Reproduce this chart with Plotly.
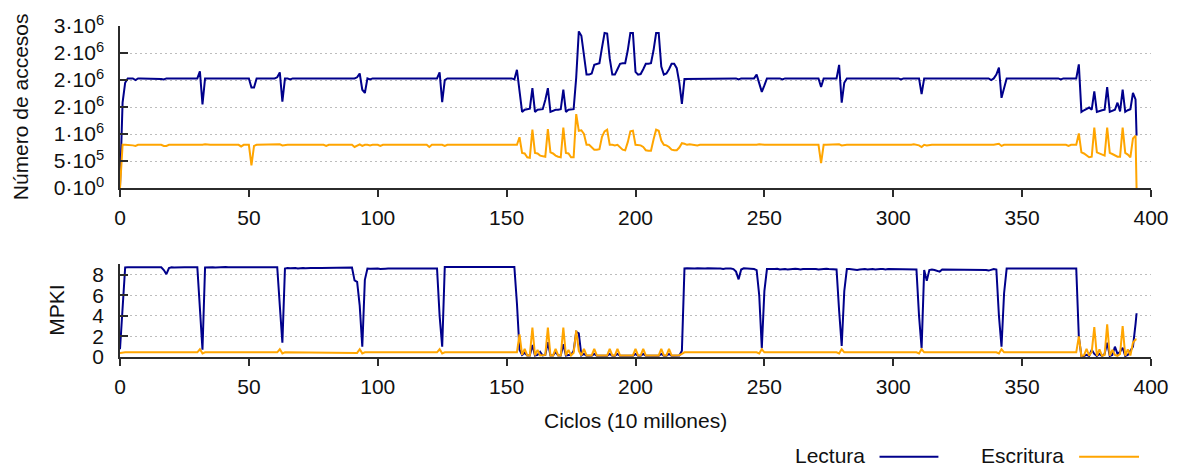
import plotly.graph_objects as go

# ---------------- DATA ----------------
# Ciclos (en unidades de 10 millones); el último intervalo es parcial
ciclos = list(range(395)) + [394.4]

# Número de accesos (en millones)
lectura_accesos = [
    0.02, 1.58, 1.95, 2.03, 2.03, 2.03, 2.00, 2.03, 2.03, 2.03,
    2.03, 2.03, 2.03, 2.03, 2.03, 2.03, 2.02, 2.01, 2.03, 2.03,
    2.03, 2.03, 2.03, 2.03, 2.03, 2.02, 2.03, 2.03, 2.03, 2.03,
    2.03, 2.16, 1.55, 2.03, 2.03, 2.03, 2.03, 2.03, 2.03, 2.03,
    2.03, 2.03, 2.03, 2.03, 2.03, 2.03, 2.03, 2.02, 2.03, 2.03,
    2.03, 1.86, 1.86, 2.03, 2.03, 2.03, 2.03, 2.03, 2.03, 2.03,
    2.03, 2.05, 2.14, 1.60, 2.03, 2.03, 2.01, 2.03, 2.03, 2.03,
    2.03, 2.03, 2.03, 2.03, 2.03, 2.02, 2.03, 2.03, 2.03, 2.03,
    2.03, 2.03, 2.03, 2.03, 2.03, 2.03, 2.03, 2.03, 2.02, 2.03,
    2.03, 2.03, 2.05, 2.12, 1.82, 1.76, 2.03, 2.01, 2.03, 2.03,
    2.03, 2.03, 2.03, 2.02, 2.03, 2.03, 2.03, 2.03, 2.03, 2.03,
    2.03, 2.03, 2.03, 2.03, 2.03, 2.03, 2.02, 2.03, 2.03, 2.03,
    2.03, 2.03, 2.03, 2.03, 2.14, 1.59, 2.00, 2.03, 2.03, 2.03,
    2.03, 2.03, 2.03, 2.03, 2.03, 2.03, 2.03, 2.03, 2.03, 2.03,
    2.03, 2.03, 2.03, 2.03, 2.02, 2.03, 2.03, 2.03, 2.03, 2.03,
    2.03, 2.03, 2.03, 2.01, 2.19, 1.80, 1.41, 1.45, 1.46, 1.47,
    1.85, 1.41, 1.45, 1.45, 1.46, 1.63, 1.85, 1.41, 1.43, 1.45,
    1.45, 1.46, 1.82, 1.41, 1.45, 1.45, 1.46, 2.05, 2.90, 2.82,
    2.45, 2.10, 2.10, 2.12, 2.28, 2.30, 2.31, 2.60, 2.87, 2.86,
    2.40, 2.10, 2.10, 2.20, 2.30, 2.31, 2.31, 2.55, 2.87, 2.87,
    2.15, 2.10, 2.11, 2.20, 2.30, 2.30, 2.31, 2.55, 2.87, 2.87,
    2.25, 2.10, 2.12, 2.20, 2.30, 2.30, 2.22, 1.95, 1.56, 2.02,
    2.02, 2.03, 2.03, 2.03, 2.03, 2.03, 2.03, 2.03, 2.02, 2.03,
    2.03, 2.03, 2.03, 2.03, 2.03, 2.03, 2.02, 2.03, 2.03, 2.03,
    2.01, 2.03, 2.03, 2.03, 2.03, 2.03, 2.03, 2.10, 1.95, 1.78,
    1.90, 2.03, 2.03, 2.03, 2.03, 2.03, 2.03, 2.01, 2.03, 2.03,
    2.03, 2.03, 2.03, 2.03, 2.03, 2.03, 2.03, 2.03, 2.03, 2.03,
    2.03, 2.03, 1.87, 2.03, 2.03, 2.03, 2.03, 2.03, 2.03, 2.28,
    1.58, 1.95, 2.03, 2.03, 2.03, 2.03, 2.03, 2.03, 2.03, 2.03,
    2.03, 2.03, 2.03, 2.03, 2.03, 2.02, 2.03, 2.03, 2.03, 2.03,
    2.03, 2.03, 2.03, 2.01, 2.03, 2.03, 2.03, 2.03, 2.03, 2.03,
    2.03, 1.74, 2.03, 2.03, 2.03, 2.03, 2.03, 2.03, 2.03, 2.03,
    2.03, 2.03, 2.03, 2.03, 2.03, 2.03, 2.03, 2.03, 2.03, 2.03,
    2.03, 2.03, 2.03, 2.03, 2.03, 2.03, 2.03, 2.03, 2.00, 2.03,
    2.10, 2.23, 1.67, 1.85, 2.03, 2.03, 2.03, 2.03, 2.03, 2.03,
    2.03, 2.03, 2.03, 2.03, 2.03, 2.03, 2.03, 2.03, 2.03, 2.03,
    2.03, 2.03, 2.03, 2.03, 2.03, 2.01, 2.03, 2.03, 2.03, 2.03,
    2.03, 2.03, 2.29, 1.41, 1.44, 1.46, 1.49, 1.45, 1.79, 1.41,
    1.43, 1.44, 1.45, 1.87, 1.41, 1.43, 1.45, 1.58, 1.42, 1.82,
    1.41, 1.44, 1.46, 1.76, 1.64, 0.97,
]

escritura_accesos = [
    0.00, 0.80, 0.80, 0.80, 0.80, 0.79, 0.78, 0.80, 0.80, 0.80,
    0.80, 0.80, 0.80, 0.80, 0.80, 0.80, 0.80, 0.78, 0.78, 0.80,
    0.80, 0.80, 0.80, 0.79, 0.80, 0.80, 0.80, 0.80, 0.80, 0.80,
    0.80, 0.80, 0.80, 0.81, 0.80, 0.80, 0.80, 0.80, 0.79, 0.80,
    0.80, 0.80, 0.80, 0.80, 0.80, 0.80, 0.80, 0.77, 0.80, 0.80,
    0.80, 0.42, 0.78, 0.80, 0.80, 0.80, 0.80, 0.80, 0.80, 0.80,
    0.80, 0.80, 0.81, 0.79, 0.80, 0.80, 0.80, 0.80, 0.80, 0.80,
    0.80, 0.80, 0.80, 0.80, 0.79, 0.80, 0.80, 0.80, 0.80, 0.80,
    0.78, 0.80, 0.80, 0.80, 0.80, 0.80, 0.80, 0.80, 0.80, 0.80,
    0.80, 0.76, 0.79, 0.81, 0.78, 0.80, 0.80, 0.79, 0.80, 0.80,
    0.80, 0.78, 0.80, 0.80, 0.80, 0.80, 0.80, 0.80, 0.80, 0.80,
    0.80, 0.80, 0.80, 0.79, 0.80, 0.80, 0.80, 0.80, 0.80, 0.80,
    0.76, 0.80, 0.80, 0.80, 0.80, 0.80, 0.78, 0.80, 0.80, 0.80,
    0.80, 0.80, 0.80, 0.80, 0.80, 0.79, 0.80, 0.80, 0.80, 0.80,
    0.80, 0.80, 0.80, 0.80, 0.80, 0.80, 0.79, 0.80, 0.80, 0.80,
    0.80, 0.80, 0.80, 0.79, 0.80, 0.94, 0.65, 0.64, 0.57, 0.56,
    1.08, 0.65, 0.64, 0.60, 0.59, 0.58, 1.09, 0.66, 0.64, 0.60,
    0.58, 0.57, 1.12, 0.65, 0.64, 0.57, 0.57, 1.37, 1.06, 1.07,
    1.00, 0.80, 0.80, 0.76, 0.71, 0.71, 0.72, 0.95, 1.05, 1.08,
    0.80, 0.80, 0.79, 0.80, 0.76, 0.71, 0.70, 0.85, 1.05, 1.06,
    0.80, 0.80, 0.79, 0.76, 0.70, 0.69, 0.69, 0.90, 1.08, 1.06,
    0.88, 0.80, 0.79, 0.76, 0.71, 0.70, 0.70, 0.75, 0.83, 0.82,
    0.80, 0.81, 0.80, 0.80, 0.79, 0.80, 0.80, 0.80, 0.80, 0.79,
    0.80, 0.80, 0.80, 0.80, 0.80, 0.79, 0.80, 0.80, 0.80, 0.80,
    0.80, 0.80, 0.79, 0.80, 0.80, 0.80, 0.80, 0.80, 0.81, 0.80,
    0.80, 0.80, 0.80, 0.80, 0.79, 0.80, 0.80, 0.80, 0.80, 0.80,
    0.80, 0.80, 0.80, 0.80, 0.80, 0.80, 0.80, 0.80, 0.80, 0.80,
    0.80, 0.80, 0.46, 0.80, 0.80, 0.80, 0.80, 0.80, 0.80, 0.81,
    0.79, 0.80, 0.80, 0.80, 0.80, 0.80, 0.80, 0.80, 0.80, 0.80,
    0.80, 0.80, 0.79, 0.80, 0.80, 0.80, 0.80, 0.80, 0.80, 0.80,
    0.80, 0.80, 0.80, 0.79, 0.80, 0.79, 0.80, 0.80, 0.81, 0.80,
    0.79, 0.76, 0.80, 0.79, 0.80, 0.80, 0.80, 0.80, 0.80, 0.80,
    0.79, 0.80, 0.80, 0.80, 0.80, 0.80, 0.80, 0.79, 0.80, 0.80,
    0.80, 0.80, 0.80, 0.80, 0.80, 0.80, 0.80, 0.79, 0.80, 0.80,
    0.81, 0.82, 0.78, 0.80, 0.80, 0.80, 0.80, 0.80, 0.80, 0.80,
    0.80, 0.80, 0.79, 0.80, 0.80, 0.80, 0.80, 0.80, 0.80, 0.80,
    0.80, 0.80, 0.79, 0.80, 0.80, 0.80, 0.79, 0.80, 0.78, 0.80,
    0.80, 0.80, 1.01, 0.66, 0.64, 0.60, 0.57, 0.58, 1.12, 0.66,
    0.64, 0.61, 0.60, 1.12, 0.65, 0.63, 0.60, 0.58, 0.58, 1.12,
    0.65, 0.62, 0.57, 0.92, 0.97, 0.00,
]

# MPKI
lectura_mpki = [
    0.75, 4.80, 8.70, 8.72, 8.72, 8.70, 8.72, 8.72, 8.72, 8.75,
    8.72, 8.72, 8.70, 8.72, 8.72, 8.75, 8.72, 8.45, 8.05, 8.65,
    8.72, 8.70, 8.72, 8.72, 8.75, 8.72, 8.72, 8.70, 8.72, 8.72,
    8.72, 4.70, 0.70, 8.70, 8.72, 8.72, 8.72, 8.70, 8.72, 8.72,
    8.72, 8.75, 8.72, 8.72, 8.70, 8.72, 8.72, 8.75, 8.72, 8.72,
    8.72, 8.70, 8.72, 8.72, 8.72, 8.70, 8.72, 8.72, 8.72, 8.72,
    8.72, 8.72, 5.00, 1.40, 8.60, 8.65, 8.62, 8.65, 8.65, 8.60,
    8.65, 8.65, 8.62, 8.60, 8.65, 8.65, 8.68, 8.65, 8.65, 8.65,
    8.65, 8.68, 8.65, 8.65, 8.68, 8.65, 8.65, 8.65, 8.68, 8.65,
    8.70, 7.45, 7.30, 5.00, 1.00, 7.50, 8.60, 8.58, 8.60, 8.60,
    8.60, 8.55, 8.60, 8.58, 8.60, 8.60, 8.55, 8.60, 8.60, 8.58,
    8.60, 8.60, 8.58, 8.60, 8.62, 8.60, 8.60, 8.58, 8.60, 8.60,
    8.60, 8.58, 8.60, 8.60, 4.00, 1.00, 8.75, 8.75, 8.78, 8.75,
    8.78, 8.75, 8.75, 8.78, 8.75, 8.75, 8.75, 8.78, 8.75, 8.75,
    8.75, 8.78, 8.75, 8.75, 8.75, 8.78, 8.75, 8.75, 8.75, 8.78,
    8.75, 8.75, 8.78, 8.75, 5.20, 0.70, 0.20, 0.40, 0.15, 0.15,
    1.17, 0.15, 0.20, 0.50, 0.15, 0.20, 1.43, 0.15, 0.15, 0.50,
    0.15, 0.15, 1.24, 0.15, 0.20, 0.20, 0.60, 2.44, 2.30, 0.15,
    0.30, 0.12, 0.12, 0.12, 0.30, 0.12, 0.12, 0.12, 0.12, 0.12,
    0.30, 0.12, 0.12, 0.30, 0.12, 0.12, 0.12, 0.12, 0.12, 0.12,
    0.30, 0.12, 0.12, 0.30, 0.12, 0.12, 0.12, 0.12, 0.12, 0.12,
    0.30, 0.12, 0.12, 0.30, 0.12, 0.12, 0.12, 0.15, 0.60, 8.60,
    8.62, 8.60, 8.58, 8.60, 8.62, 8.60, 8.58, 8.60, 8.62, 8.60,
    8.60, 8.58, 8.60, 8.60, 8.55, 8.60, 8.62, 8.60, 8.55, 8.30,
    7.55, 8.50, 8.62, 8.60, 8.60, 8.58, 8.55, 8.45, 6.00, 0.86,
    6.40, 8.55, 8.58, 8.55, 8.55, 8.58, 8.50, 8.55, 8.55, 8.50,
    8.55, 8.55, 8.58, 8.55, 8.50, 8.55, 8.55, 8.58, 8.55, 8.55,
    8.55, 8.50, 8.55, 8.55, 8.58, 8.55, 8.55, 8.55, 8.50, 4.50,
    1.07, 6.40, 8.55, 8.55, 8.50, 8.50, 8.45, 8.50, 8.55, 8.55,
    8.50, 8.55, 8.55, 8.50, 8.55, 8.55, 8.55, 8.50, 8.55, 8.55,
    8.55, 8.50, 8.55, 8.55, 8.55, 8.50, 8.55, 8.55, 8.55, 8.50,
    4.00, 0.86, 8.45, 7.40, 8.45, 8.50, 8.45, 8.35, 8.30, 8.50,
    8.50, 8.45, 8.50, 8.50, 8.45, 8.50, 8.50, 8.45, 8.50, 8.50,
    8.45, 8.50, 8.50, 8.45, 8.50, 8.50, 8.45, 8.40, 8.50, 8.55,
    8.50, 4.00, 1.00, 6.20, 8.60, 8.60, 8.58, 8.60, 8.55, 8.60,
    8.60, 8.58, 8.60, 8.60, 8.58, 8.60, 8.60, 8.55, 8.60, 8.60,
    8.60, 8.58, 8.60, 8.60, 8.60, 8.58, 8.60, 8.60, 8.58, 8.60,
    8.60, 8.60, 1.95, 0.08, 0.10, 0.20, 0.10, 0.70, 0.30, 0.10,
    0.30, 0.10, 0.30, 1.40, 0.10, 0.20, 1.00, 0.30, 0.50, 0.90,
    0.10, 0.20, 0.60, 1.00, 3.20, 4.25,
]

escritura_mpki = [
    0.40, 0.45, 0.45, 0.45, 0.46, 0.45, 0.45, 0.45, 0.46, 0.45,
    0.45, 0.45, 0.46, 0.45, 0.45, 0.45, 0.47, 0.45, 0.45, 0.45,
    0.45, 0.45, 0.45, 0.45, 0.45, 0.46, 0.45, 0.45, 0.45, 0.45,
    0.45, 0.75, 0.35, 0.45, 0.45, 0.45, 0.46, 0.45, 0.45, 0.45,
    0.45, 0.45, 0.45, 0.46, 0.45, 0.45, 0.45, 0.45, 0.45, 0.46,
    0.45, 0.45, 0.45, 0.45, 0.46, 0.45, 0.45, 0.45, 0.45, 0.45,
    0.45, 0.45, 0.75, 0.35, 0.45, 0.45, 0.45, 0.46, 0.45, 0.45,
    0.45, 0.45, 0.46, 0.45, 0.45, 0.45, 0.45, 0.45, 0.46, 0.45,
    0.45, 0.45, 0.45, 0.45, 0.46, 0.45, 0.45, 0.45, 0.45, 0.45,
    0.45, 0.45, 0.40, 0.75, 0.35, 0.45, 0.45, 0.45, 0.46, 0.45,
    0.45, 0.45, 0.45, 0.46, 0.45, 0.45, 0.45, 0.45, 0.45, 0.46,
    0.45, 0.45, 0.45, 0.45, 0.46, 0.45, 0.45, 0.45, 0.45, 0.45,
    0.45, 0.45, 0.45, 0.45, 0.75, 0.35, 0.45, 0.45, 0.46, 0.45,
    0.45, 0.45, 0.45, 0.46, 0.45, 0.45, 0.45, 0.45, 0.45, 0.46,
    0.45, 0.45, 0.45, 0.45, 0.46, 0.45, 0.45, 0.45, 0.45, 0.45,
    0.45, 0.45, 0.45, 0.45, 0.45, 2.19, 0.20, 0.80, 0.15, 0.15,
    2.87, 0.15, 0.70, 0.15, 0.15, 0.20, 2.87, 0.15, 0.15, 0.80,
    0.15, 0.15, 2.87, 0.15, 0.70, 0.15, 0.40, 2.60, 0.60, 0.15,
    0.80, 0.15, 0.15, 0.15, 0.80, 0.15, 0.15, 0.15, 0.15, 0.15,
    0.80, 0.15, 0.15, 0.80, 0.15, 0.15, 0.15, 0.15, 0.15, 0.15,
    0.80, 0.15, 0.15, 0.80, 0.15, 0.15, 0.15, 0.15, 0.15, 0.15,
    0.80, 0.15, 0.15, 0.80, 0.15, 0.15, 0.15, 0.18, 0.30, 0.45,
    0.45, 0.45, 0.46, 0.45, 0.45, 0.45, 0.45, 0.46, 0.45, 0.45,
    0.45, 0.45, 0.45, 0.46, 0.45, 0.45, 0.45, 0.45, 0.45, 0.46,
    0.45, 0.45, 0.45, 0.45, 0.46, 0.45, 0.45, 0.45, 0.35, 0.75,
    0.45, 0.45, 0.45, 0.46, 0.45, 0.45, 0.45, 0.45, 0.46, 0.45,
    0.45, 0.45, 0.45, 0.45, 0.46, 0.45, 0.45, 0.45, 0.45, 0.45,
    0.46, 0.45, 0.45, 0.45, 0.45, 0.45, 0.46, 0.45, 0.45, 0.35,
    0.75, 0.45, 0.45, 0.45, 0.46, 0.45, 0.45, 0.45, 0.45, 0.46,
    0.45, 0.45, 0.45, 0.45, 0.45, 0.46, 0.45, 0.45, 0.45, 0.45,
    0.46, 0.45, 0.45, 0.45, 0.45, 0.45, 0.46, 0.45, 0.45, 0.45,
    0.35, 0.75, 0.45, 0.45, 0.45, 0.46, 0.45, 0.45, 0.45, 0.45,
    0.45, 0.46, 0.45, 0.45, 0.45, 0.45, 0.45, 0.46, 0.45, 0.45,
    0.45, 0.45, 0.45, 0.46, 0.45, 0.45, 0.45, 0.45, 0.45, 0.45,
    0.46, 0.35, 0.75, 0.45, 0.45, 0.45, 0.45, 0.46, 0.45, 0.45,
    0.45, 0.45, 0.45, 0.45, 0.46, 0.45, 0.45, 0.45, 0.45, 0.45,
    0.46, 0.45, 0.45, 0.45, 0.45, 0.45, 0.46, 0.45, 0.45, 0.45,
    0.45, 0.45, 2.00, 0.10, 0.15, 0.80, 0.12, 0.50, 2.90, 0.12,
    0.75, 0.12, 0.20, 3.17, 0.12, 0.70, 0.20, 0.12, 0.30, 3.00,
    0.12, 0.75, 0.15, 1.40, 1.70, 1.70,
]

series_nombres = ["Lectura", "Escritura"]

x_ticks = [0, 50, 100, 150, 200, 250, 300, 350, 400]
acc_ticks = [0, 0.5, 1, 1.5, 2, 2.5, 3]
acc_ticktext = ["0·10<sup>0</sup>", "5·10<sup>5</sup>", "1·10<sup>6</sup>",
                "2·10<sup>6</sup>", "2·10<sup>6</sup>", "2·10<sup>6</sup>",
                "3·10<sup>6</sup>"]
mpki_ticks = [0, 2, 4, 6, 8]

for arr in (lectura_accesos, escritura_accesos, lectura_mpki, escritura_mpki):
    assert len(arr) == len(ciclos), len(arr)

# ---------------- STYLE ----------------
AZUL = "#00008b"
NARANJA = "#ffa500"
EJE = "#2b2b2b"
GRID = "#bdbdbd"
FONT = "Liberation Sans, Arial, Helvetica, sans-serif"
FS = 21

W, H = 1181, 470
ML, MR, MT, MB = 120, 28, 22, 113
PW = W - ML - MR
PH = H - MT - MB


def px_x(px):
    return (px - ML) / PW


def px_y(py):
    return (H - MB - py) / PH


top_dom = [px_y(186), 1.0]
bot_dom = [0.0, px_y(263.3)]

fig = go.Figure()
fig.add_trace(go.Scatter(x=ciclos, y=lectura_accesos, mode="lines", name=series_nombres[0],
                         line=dict(color=AZUL, width=2), xaxis="x", yaxis="y"))
fig.add_trace(go.Scatter(x=ciclos, y=escritura_accesos, mode="lines", name=series_nombres[1],
                         line=dict(color=NARANJA, width=2), xaxis="x", yaxis="y"))
fig.add_trace(go.Scatter(x=ciclos, y=lectura_mpki, mode="lines", name=series_nombres[0],
                         line=dict(color=AZUL, width=2), xaxis="x2", yaxis="y2"))
fig.add_trace(go.Scatter(x=ciclos, y=escritura_mpki, mode="lines", name=series_nombres[1],
                         line=dict(color=NARANJA, width=2), xaxis="x2", yaxis="y2"))

xcommon = dict(range=[0, 400], tickvals=x_ticks, ticks="outside", ticklen=7, tickwidth=1.5,
               tickcolor=EJE, showline=True, linecolor=EJE, linewidth=1.5, showgrid=False,
               zeroline=False, ticklabelstandoff=3, tickfont=dict(size=FS, family=FONT, color="#111"))
ycommon = dict(ticks="inside", ticklen=8, tickwidth=1.5, tickcolor=EJE, showline=True,
               linecolor=EJE, linewidth=1.5, showgrid=True, gridcolor=GRID, gridwidth=1,
               griddash="2px,3px", zeroline=False, ticklabelstandoff=10,
               tickfont=dict(size=FS, family=FONT, color="#111"))

fig.update_layout(
    width=W, height=H,
    margin=dict(l=ML, r=MR, t=MT, b=MB),
    paper_bgcolor="white", plot_bgcolor="white",
    font=dict(family=FONT, size=FS, color="#111"),
    showlegend=False,
    xaxis=dict(domain=[0, 1], anchor="y", **xcommon),
    yaxis=dict(domain=top_dom, anchor="x", range=[0, 3], tickvals=acc_ticks,
               ticktext=acc_ticktext, **ycommon),
    xaxis2=dict(domain=[0, 1], anchor="y2", **xcommon),
    yaxis2=dict(domain=bot_dom, anchor="x2", range=[0, 9], tickvals=mpki_ticks, **ycommon),
)

annots = [
    dict(text="Número de accesos", xref="paper", yref="paper", x=px_x(20), y=sum(top_dom) / 2,
         xanchor="center", yanchor="middle", textangle=-90, showarrow=False,
         font=dict(size=FS, family=FONT, color="#111")),
    dict(text="MPKI", xref="paper", yref="paper", x=px_x(57), y=sum(bot_dom) / 2,
         xanchor="center", yanchor="middle", textangle=-90, showarrow=False,
         font=dict(size=FS, family=FONT, color="#111")),
    dict(text="Ciclos (10 millones)", xref="paper", yref="paper", x=0.5, y=px_y(421),
         xanchor="center", yanchor="middle", showarrow=False,
         font=dict(size=FS, family=FONT, color="#111")),
    dict(text=series_nombres[0], xref="paper", yref="paper", x=px_x(868), y=px_y(457),
         xanchor="right", yanchor="middle", showarrow=False,
         font=dict(size=FS, family=FONT, color="#111")),
    dict(text=series_nombres[1], xref="paper", yref="paper", x=px_x(1068), y=px_y(457),
         xanchor="right", yanchor="middle", showarrow=False,
         font=dict(size=FS, family=FONT, color="#111")),
]
shapes = [
    dict(type="line", xref="paper", yref="paper", x0=px_x(881), x1=px_x(940),
         y0=px_y(458), y1=px_y(458), line=dict(color=AZUL, width=2)),
    dict(type="line", xref="paper", yref="paper", x0=px_x(1081), x1=px_x(1141),
         y0=px_y(458), y1=px_y(458), line=dict(color=NARANJA, width=2)),
]
fig.update_layout(annotations=annots, shapes=shapes)

fig.write_html("out.html")
